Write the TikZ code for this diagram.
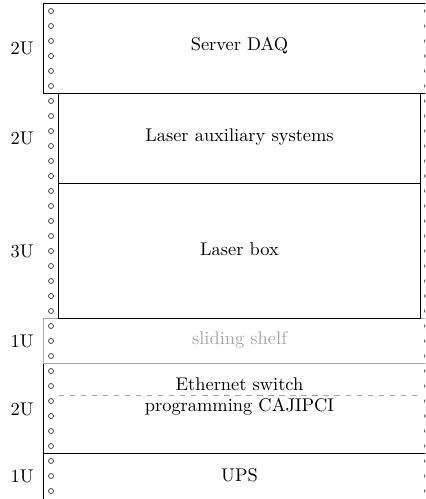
\documentclass[tikz,border=0pt]{standalone}
\begin{document}
\begin{tikzpicture}[x=0.5435pt,y=-0.5435pt,
  hole/.style={draw=black!75,line width=0.4pt},
  rackbox/.style={draw=black,line width=0.45pt},
  shelfbox/.style={draw=black!35,line width=0.45pt},
  label/.style={inner sep=0pt,font=\normalsize},
  ulabel/.style={inner sep=0pt,anchor=east,font=\normalsize}]
\useasboundingbox (0,0) rectangle (425,499);
\clip (0,0) rectangle (425,499);
% rack holes
\foreach \i in {0,...,32}{
  \draw[hole] (51,{11+15*\i}) circle[radius=2.5];
  \draw[hole] (427,{11+15*\i}) circle[radius=2.5];
}
% boxes
\draw[rackbox] (43.5,363.5) rectangle (436,453.5);
\draw[shelfbox] (43.5,318.5) rectangle (436,363.5);
\draw[rackbox] (43.5,3.5) rectangle (436,93.5);
\draw[rackbox] (58.5,93.5) rectangle (420.5,183.5);
\draw[rackbox] (58.5,183.5) rectangle (420.5,318.5);
\draw[rackbox] (43.5,453.5) rectangle (436,520);
\coordinate (dashL) at (58.5,395);
\coordinate (dashR) at (420.5,395);
\draw[black!35,dashed,line width=0.45pt] (dashL) -- (dashR);
% texts
\node[label] (daq) at (239.5,46) {Server DAQ};
\node[label] (aux) at (239.5,137) {Laser auxiliary systems};
\node[label] (lbox) at (239.5,249) {Laser box};
\node[label,text=black!35] (shelf) at (239.5,340) {sliding shelf};
\node[label] (eth) at (239.5,384) {Ethernet switch};
\node[label] (prog) at (239.5,407) {programming CAJIPCI};
\node[label] (ups) at (239.5,475) {UPS};
% unit labels
\node[ulabel] (u1) at (34,48) {2U};
\node[ulabel] (u2) at (34,138) {2U};
\node[ulabel] (u3) at (34,251) {3U};
\node[ulabel] (u4) at (34,341) {1U};
\node[ulabel] (u5) at (34,409) {2U};
\node[ulabel] (u6) at (34,476) {1U};
\end{tikzpicture}
\end{document}
